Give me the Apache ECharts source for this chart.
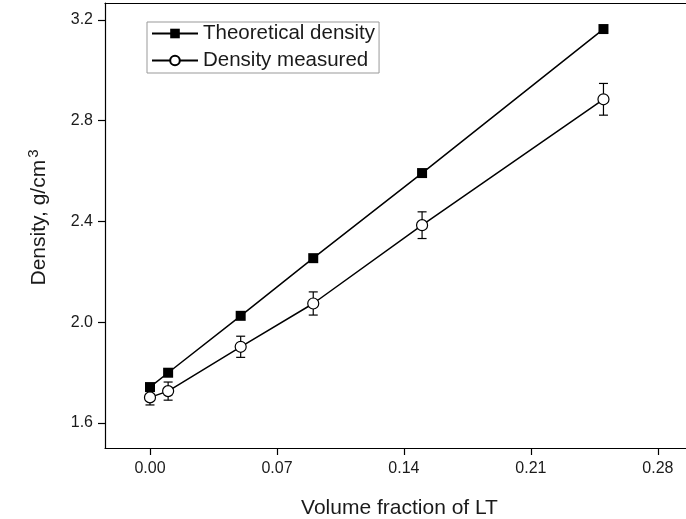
<!DOCTYPE html>
<html>
<head>
<meta charset="utf-8">
<script src="https://cdn.jsdelivr.net/npm/echarts@6/dist/echarts.min.js"></script>
<style>html,body{margin:0;padding:0;background:#fff;}#c{width:686px;height:519px;}</style>
</head>
<body>
<div id="c"></div>
<script>
const volumeFraction = [0.00, 0.01, 0.05, 0.09, 0.15, 0.25];
const theoreticalDensity = [1.742, 1.799, 2.025, 2.254, 2.592, 3.164];
const measuredDensity = [1.701, 1.726, 1.902, 2.074, 2.385, 2.885];
const measuredError = [0.030, 0.036, 0.042, 0.046, 0.053, 0.063];
const xTicks = [0.00, 0.07, 0.14, 0.21, 0.28];
const yTicks = [1.6, 2.0, 2.4, 2.8, 3.2];

const textColor = '#1a1a1a';
const font = 'Liberation Sans, Arial, sans-serif';

const theoData = volumeFraction.map((x, i) => [x, theoreticalDensity[i]]);
const measData = volumeFraction.map((x, i) => [x, measuredDensity[i]]);
const errData = volumeFraction.map((x, i) => [x, measuredDensity[i] - measuredError[i], measuredDensity[i] + measuredError[i]]);

const chart = echarts.init(document.getElementById('c'), null, {renderer: 'canvas'});
chart.setOption({
  animation: false,
  backgroundColor: '#fff',
  textStyle: {fontFamily: font, color: textColor},
  grid: {left: 105, right: 0, top: 3, bottom: 71, containLabel: false, outerBoundsMode: 'none'},
  legend: {
    left: 147, top: 22,
    orient: 'vertical',
    padding: [1, 4, 2, 4],
    itemGap: 6,
    itemWidth: 46,
    itemHeight: 12,
    borderColor: '#999',
    borderWidth: 1,
    textStyle: {fontSize: 20.5, color: textColor, fontFamily: font},
    data: ['Theoretical density', 'Density measured']
  },
  xAxis: [{
    type: 'value',
    min: -0.0248, max: 0.2955,
    position: 'bottom',
    name: 'Volume fraction of LT',
    nameLocation: 'middle',
    nameGap: 50,
    nameTextStyle: {fontSize: 21, color: textColor, fontFamily: font, padding: [0, 0, 0, 8]},
    axisLine: {show: true, onZero: false, lineStyle: {color: '#000', width: 1.2}},
    axisTick: {show: true, inside: false, length: 7, customValues: xTicks, lineStyle: {color: '#000', width: 1.2}},
    axisLabel: {customValues: xTicks, fontSize: 16, color: textColor, margin: 13, formatter: v => v.toFixed(2)},
    splitLine: {show: false}
  }, {
    type: 'value',
    min: -0.0248, max: 0.2955,
    position: 'top',
    axisLine: {show: true, onZero: false, lineStyle: {color: '#000', width: 1.2}},
    axisTick: {show: false},
    axisLabel: {show: false},
    splitLine: {show: false}
  }],
  yAxis: {
    type: 'value',
    min: 1.5, max: 3.2675,
    name: 'Density, g/cm{sup|3}',
    nameLocation: 'middle',
    nameGap: 52,
    nameRotate: 90,
    nameTextStyle: {
      fontSize: 21, color: textColor, fontFamily: font,
      padding: [0, 0, 0, 16],
      rich: {sup: {fontSize: 15, color: textColor, fontFamily: font, verticalAlign: 'top', padding: [0, 0, 12, 2]}}
    },
    axisLine: {show: true, onZero: false, lineStyle: {color: '#000', width: 1.2}},
    axisTick: {show: true, inside: false, length: 7, customValues: yTicks, lineStyle: {color: '#000', width: 1.2}},
    axisLabel: {customValues: yTicks, fontSize: 16, color: textColor, margin: 12, formatter: v => v.toFixed(1)},
    splitLine: {show: false}
  },
  series: [
    {
      name: 'Density measured error',
      type: 'custom',
      z: 1,
      silent: true,
      renderItem: function (params, api) {
        const x = api.value(0);
        const lo = api.coord([x, api.value(1)]);
        const hi = api.coord([x, api.value(2)]);
        const w = 4.5;
        const style = {stroke: '#000', lineWidth: 1.2, fill: null};
        return {
          type: 'group',
          children: [
            {type: 'line', shape: {x1: lo[0], y1: lo[1], x2: hi[0], y2: hi[1]}, style: style},
            {type: 'line', shape: {x1: lo[0] - w, y1: lo[1], x2: lo[0] + w, y2: lo[1]}, style: style},
            {type: 'line', shape: {x1: hi[0] - w, y1: hi[1], x2: hi[0] + w, y2: hi[1]}, style: style}
          ]
        };
      },
      encode: {x: 0, y: [1, 2]},
      data: errData
    },
    {
      name: 'Theoretical density',
      type: 'line',
      z: 3,
      data: theoData,
      symbol: 'rect',
      symbolSize: 10,
      showAllSymbol: true,
      lineStyle: {color: '#000', width: 1.5},
      itemStyle: {color: '#000', borderColor: '#000', borderWidth: 0}
    },
    {
      name: 'Density measured',
      type: 'line',
      z: 3,
      data: measData,
      symbol: 'circle',
      symbolSize: 11,
      showAllSymbol: true,
      lineStyle: {color: '#000', width: 1.5},
      itemStyle: {color: '#fff', borderColor: '#000', borderWidth: 1.2}
    }
  ]
});
</script>
</body>
</html>
